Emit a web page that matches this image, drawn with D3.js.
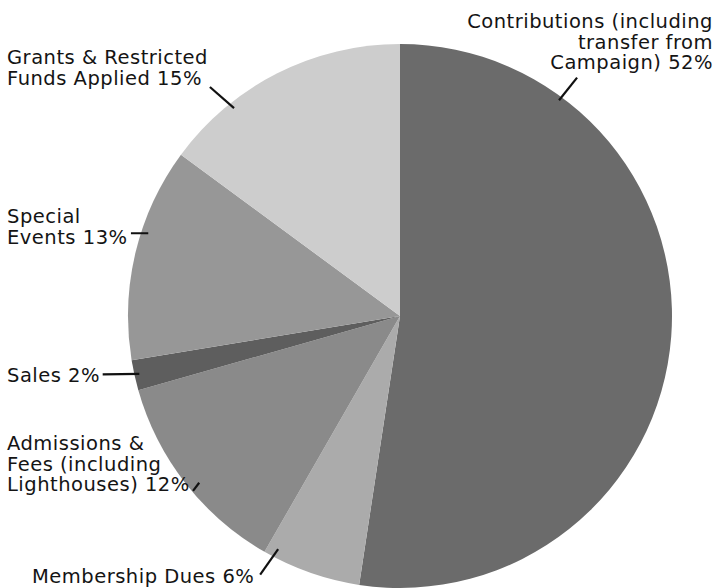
<!DOCTYPE html>
<html>
<head>
<meta charset="utf-8">
<script src="https://cdn.jsdelivr.net/npm/d3@7"></script>
<style>
  body { margin: 0; background: #fff; }
  .lbl { font-family: "DejaVu Sans", sans-serif; font-size: 19.5px; letter-spacing: 0.5px; fill: #141414; }
  .leader { stroke: #111; stroke-width: 2.2px; fill: none; }
</style>
</head>
<body>
<div id="box-div"></div>
<script>
// data (clockwise from 12 o'clock)
const categories = ['Contributions', 'Membership Dues', 'Admissions & Fees', 'Sales', 'Special Events', 'Grants & Restricted Funds Applied']
const shares = [52.4, 5.9, 12.3, 1.8, 12.7, 14.9]
const labelText = [
    ['Contributions (including', 'transfer from', 'Campaign) 52%'],
    ['Membership Dues 6%'],
    ['Admissions &', 'Fees (including', 'Lighthouses) 12%'],
    ['Sales 2%'],
    ['Special', 'Events 13%'],
    ['Grants & Restricted', 'Funds Applied 15%']
]
const fills = ['#6b6b6b', '#ababab', '#8a8a8a', '#5e5e5e', '#979797', '#cdcdcd']

let dms = {
    width: 714,
    height: 588,
    cx: 400,
    cy: 316,
    r: 272
}

// label placement: text position (absolute), leader as [angle deg, radius] pairs
const labelLayout = [
    { x: 713, y: 28, anchor: 'end', leader: [[36.4, 268], [36.6, 297]] },
    { x: 32, y: 583, anchor: 'start', leader: [[207.6, 263], [208.4, 294]] },
    { x: 7, y: 450, anchor: 'start', leader: [[230.3, 261], [229.8, 271]] },
    { x: 7, y: 382, anchor: 'start', leader: [[257.5, 267], [258.9, 303]] },
    { x: 7, y: 223, anchor: 'start', leader: [[288.2, 265], [287.1, 281.5]] },
    { x: 7, y: 64, anchor: 'start', leader: [[321.4, 266], [320.3, 297.6]] }
]

const box = d3.select('#box-div').append('svg')
    .attr('width', dms.width)
    .attr('height', dms.height)

const content = box.append('g')
    .attr('transform', `translate(${dms.cx},${dms.cy})`)

const pie = d3.pie().sort(null).value(d => d)
const arc = d3.arc().innerRadius(0).outerRadius(dms.r)
const arcs = pie(shares)

content.append('g').selectAll('path')
    .data(arcs)
    .join('path')
    .attr('d', arc)
    .style('fill', (d, i) => fills[i])

const rad = Math.PI / 180
content.append('g').selectAll('line')
    .data(labelLayout)
    .join('line')
    .attr('class', 'leader')
    .attr('x1', d => d3.pointRadial(d.leader[0][0] * rad, d.leader[0][1])[0])
    .attr('y1', d => d3.pointRadial(d.leader[0][0] * rad, d.leader[0][1])[1])
    .attr('x2', d => d3.pointRadial(d.leader[1][0] * rad, d.leader[1][1])[0])
    .attr('y2', d => d3.pointRadial(d.leader[1][0] * rad, d.leader[1][1])[1])

const texts = box.append('g').selectAll('text')
    .data(labelLayout)
    .join('text')
    .attr('class', 'lbl')
    .attr('text-anchor', d => d.anchor)
    .attr('x', d => d.x)
    .attr('y', d => d.y)

texts.each(function (d, i) {
    d3.select(this).selectAll('tspan')
        .data(labelText[i])
        .join('tspan')
        .attr('x', d.x)
        .attr('dy', (t, j) => j === 0 ? 0 : 20.5)
        .text(t => t)
})
</script>
</body>
</html>
